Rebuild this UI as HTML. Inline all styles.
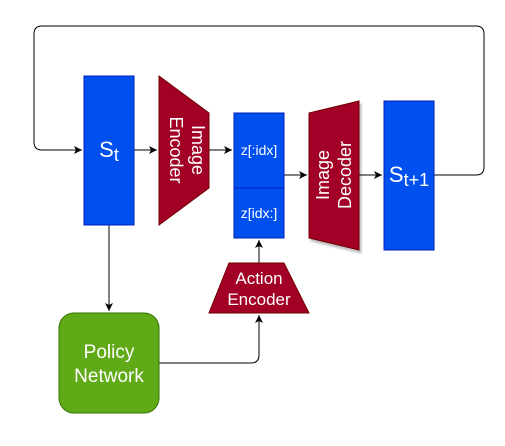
<!DOCTYPE html>
<html><head><style>body{margin:0;background:#fff}svg{display:block}</style></head><body>
<svg width="505" height="446" viewBox="0 0 505 446" xmlns="http://www.w3.org/2000/svg" font-family="Liberation Sans, sans-serif">
<defs><marker id="a" markerWidth="10" markerHeight="10" refX="9" refY="5" orient="auto" markerUnits="userSpaceOnUse"><path d="M1,1 L9,5 L1,9 L3,5 Z" fill="#000"/></marker>
<filter id="sh"><feDropShadow dx="2" dy="3" stdDeviation="1" flood-color="#000" flood-opacity="0.25"/></filter></defs>
<g stroke="#000" stroke-width="1" fill="none">
<path d="M434,175 H476 Q484,175 484,167 V34 Q484,26 476,26 H42 Q34,26 34,34 V142 Q34,150 42,150 H82" marker-end="url(#a)"/>
<path d="M134,150 H157" marker-end="url(#a)"/>
<path d="M209,150 H232" marker-end="url(#a)"/>
<path d="M284,175 H307" marker-end="url(#a)"/>
<path d="M359,175 H382" marker-end="url(#a)"/>
<path d="M109,225 V311" marker-end="url(#a)"/>
<path d="M259,263 V240" marker-end="url(#a)"/>
<path d="M159,363 H251 Q259,363 259,355 V315" marker-end="url(#a)"/>
</g>
<rect x="84" y="76" width="50" height="149" fill="#0050ef" stroke="#001dbc"/>
<polygon points="159,76 209,113 209,188 159,225" fill="#a20025" stroke="#6f0000"/>
<rect x="234" y="113" width="50" height="75" fill="#0050ef" stroke="#001dbc"/>
<rect x="234" y="188" width="50" height="50" fill="#0050ef" stroke="#001dbc"/>
<polygon points="309,113 359,101 359,250 309,238" fill="#a20025" stroke="#6f0000" filter="url(#sh)"/>
<rect x="384" y="101" width="50" height="149" fill="#0050ef" stroke="#001dbc"/>
<polygon points="229,263 284,263 309,313 209,313" fill="#a20025" stroke="#6f0000"/>
<rect x="59" y="313" width="100" height="100" rx="15" fill="#60a917" stroke="#2d7600"/>
<g fill="#fff" text-anchor="middle">
<text x="109" y="157" font-size="22">S<tspan font-size="18" dy="4">t</tspan></text>
<text x="409" y="182" font-size="22">S<tspan font-size="18" dy="4">t+1</tspan></text>
<text x="259" y="155" font-size="14">z[:idx]</text>
<text x="259" y="218" font-size="14">z[idx:]</text>
<text transform="translate(184,150) rotate(90)" font-size="18"><tspan x="0" y="-8">Image</tspan><tspan x="0" y="14">Encoder</tspan></text>
<text transform="translate(334,175) rotate(-90)" font-size="18"><tspan x="0" y="-5">Image</tspan><tspan x="0" y="17">Decoder</tspan></text>
<text x="259" y="284" font-size="17">Action</text>
<text x="259" y="305" font-size="17">Encoder</text>
<text x="109" y="358" font-size="19">Policy</text>
<text x="109" y="382" font-size="19">Network</text>
</g>
</svg>
</body></html>
